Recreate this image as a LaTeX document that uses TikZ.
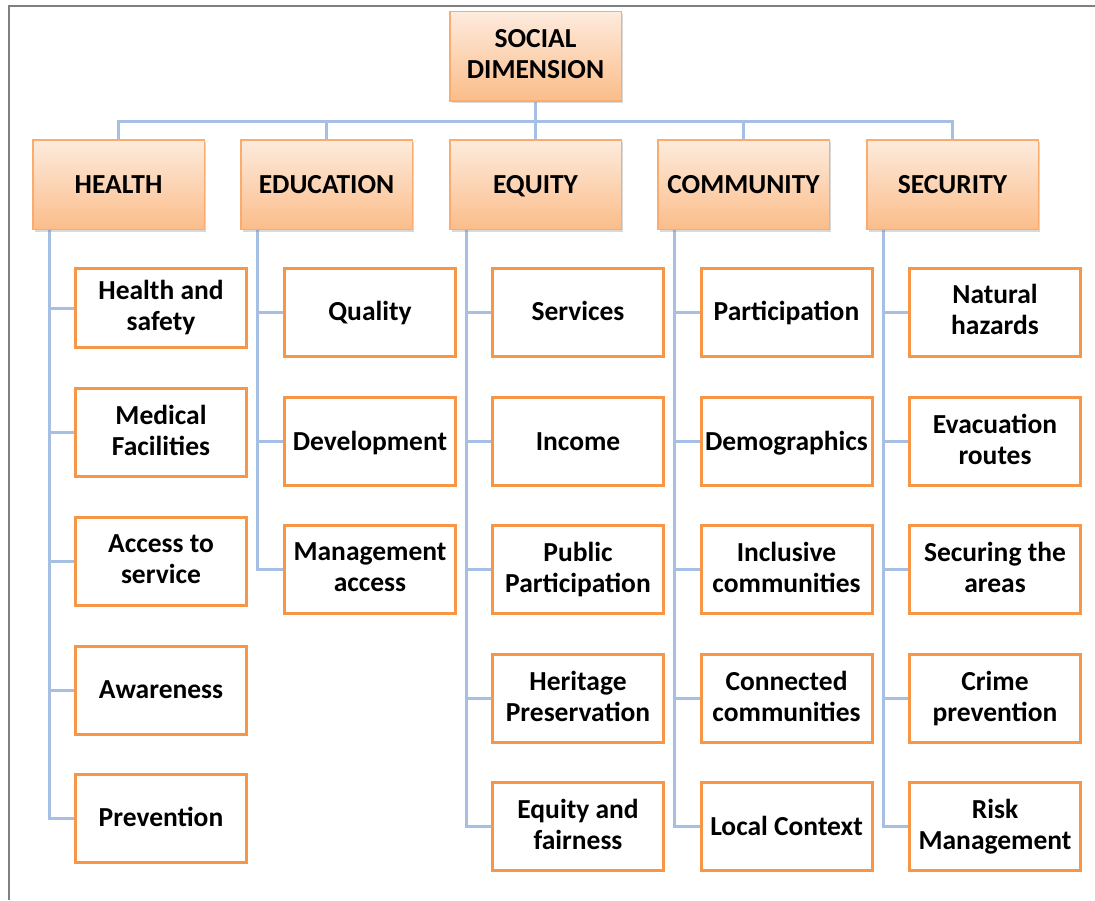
\documentclass[tikz,border=0pt]{standalone}
\usepackage{fontspec}
\setmainfont{Carlito}
\usetikzlibrary{shadows,backgrounds}

\definecolor{leafborder}{HTML}{F79646}
\definecolor{catborder}{HTML}{F9AC6E}
\definecolor{cattop}{HTML}{FDEBDD}
\definecolor{catbottom}{HTML}{FBBD8A}
\definecolor{linkblue}{HTML}{A7BFE2}
\definecolor{framegray}{HTML}{808080}

\newcommand\boxstrut{\rule[-5pt]{0pt}{27pt}}

\tikzset{
    catbox/.style={draw=catborder, line width=1.5pt, top color=cattop, bottom color=catbottom,
        minimum width=171.5pt, minimum height=89.5pt, inner sep=0pt, align=center,
        font=\fontsize{27.5}{31}\selectfont\bfseries,
        execute at begin node=\boxstrut, execute at end node=\boxstrut,
        drop shadow={shadow xshift=2pt, shadow yshift=-2.5pt, opacity=0.3}},
    leafbox/.style={draw=leafborder, line width=3pt, fill=white,
        minimum width=171pt, minimum height=88pt, inner sep=0pt, align=center,
        font=\fontsize{27.5}{31}\selectfont\bfseries,
        execute at begin node=\boxstrut, execute at end node=\boxstrut},
    link/.style={draw=linkblue, line width=3pt}
}

\begin{document}
\begin{tikzpicture}[x=1pt, y=-1pt]
    \useasboundingbox (0,0) rectangle (1095,900);

    % frame
    \draw[framegray, line width=2pt] (9,900) -- (9,6) -- (1095,6);

    % top and categories
    \node[name=social, catbox] at (535.5, 56) {SOCIAL\\DIMENSION};
    \foreach \n/\x/\t in {health/118.5/HEALTH, education/326.5/EDUCATION, equity/535.5/EQUITY,
                          community/743.5/COMMUNITY, security/952.5/SECURITY}
        {
            \node[name=\n, catbox] at (\x, 184.5) {\t};
        }

    % leaves
    \foreach \i/\y/\h/\t in {1/308/79pt/{Health and\\safety}, 2/432.5/88pt/{Medical\\Facilities},
                             3/561.5/88pt/{Access to\\service}, 4/690/88pt/Awareness, 5/818/88pt/Prevention}
        {
            \node[name=h\i, leafbox, minimum height=\h] at (161, \y) {\t};
        }
    \foreach \i/\y/\t in {1/312/Quality, 2/441.5/Development, 3/569.5/{Management\\access}}
        {
            \node[name=e\i, leafbox] at (370, \y) {\t};
        }
    \foreach \i/\y/\t in {1/312/Services, 2/441.5/Income, 3/569.5/{Public\\Participation},
                          4/698.5/{Heritage\\Preservation}, 5/826.5/{Equity and\\fairness}}
        {
            \node[name=q\i, leafbox] at (578, \y) {\t};
        }
    \foreach \i/\y/\t in {1/312/Participation, 2/441.5/Demographics, 3/569.5/{Inclusive\\communities},
                          4/698.5/{Connected\\communities}, 5/826.5/Local Context}
        {
            \node[name=c\i, leafbox] at (786.5, \y) {\t};
        }
    \foreach \i/\y/\t in {1/312/{Natural\\hazards}, 2/441.5/{Evacuation\\routes}, 3/569.5/{Securing the\\areas},
                          4/698.5/{Crime\\prevention}, 5/826.5/{Risk\\Management}}
        {
            \node[name=s\i, leafbox] at (995, \y) {\t};
        }

    % connectors
    \begin{scope}[on background layer]
        \foreach \n in {health, education, equity, community, security}
            \draw[link] (social.south) -- +(0,20) -| (\n.north);
        \foreach \i in {1,...,5}
            {
                \draw[link] ([xshift=17.5pt]health.south west) |- (h\i.west);
                \draw[link] ([xshift=17.5pt]equity.south west) |- (q\i.west);
                \draw[link] ([xshift=17.5pt]community.south west) |- (c\i.west);
                \draw[link] ([xshift=17.5pt]security.south west) |- (s\i.west);
            }
        \foreach \i in {1,...,3}
            \draw[link] ([xshift=17.5pt]education.south west) |- (e\i.west);
    \end{scope}
\end{tikzpicture}
\end{document}
